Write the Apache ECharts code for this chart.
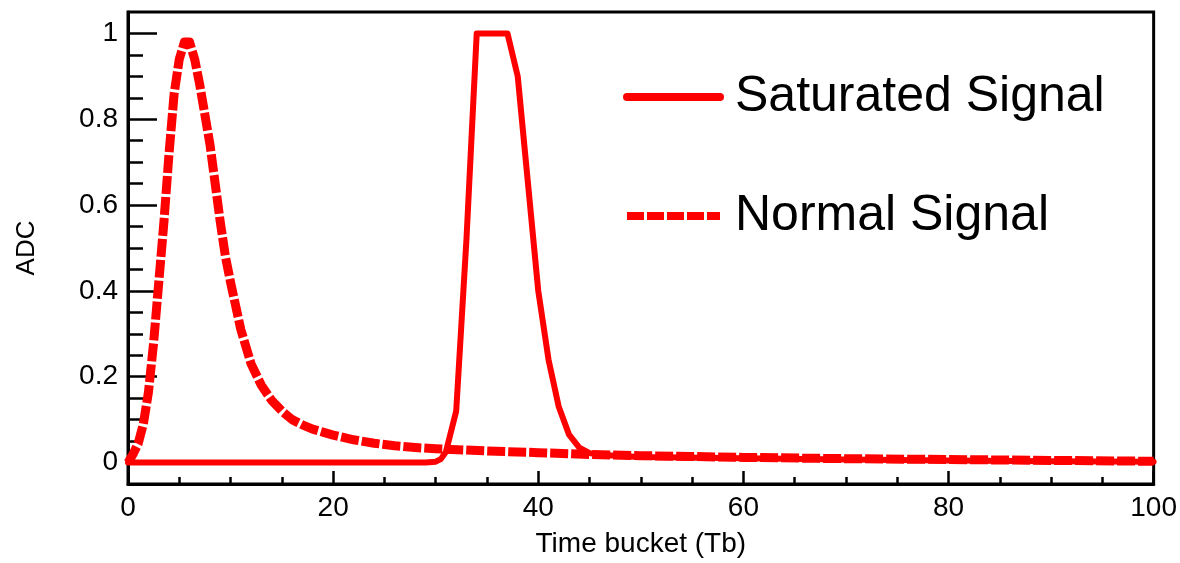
<!DOCTYPE html>
<html>
<head>
<meta charset="utf-8">
<script src="https://cdn.jsdelivr.net/npm/echarts@6/dist/echarts.min.js"></script>
<style>html,body{margin:0;padding:0;background:#fff;}#chart{width:1180px;height:563px;}</style>
</head>
<body>
<div id="chart"></div>
<script>
// ---- data ----
const seriesNames = ['Saturated Signal', 'Normal Signal'];

const saturatedX = [0, 5, 10, 15, 20, 25, 29, 30, 30.5, 31, 32, 33, 34, 35, 36, 37, 38, 39, 40, 41, 42, 43, 44, 45, 46, 48, 50, 60, 70, 80, 90, 100];
const saturatedY = [0, 0, 0, 0, 0, 0, 0, 0.002, 0.008, 0.025, 0.12, 0.52, 1.0, 1.0, 1.0, 1.0, 0.90, 0.65, 0.40, 0.24, 0.13, 0.065, 0.035, 0.022, 0.018, 0.015, 0.013, 0.010, 0.007, 0.005, 0.003, 0.002];

const normalX = [0, 0.5, 1, 1.5, 2, 2.5, 3, 3.5, 4, 4.5, 5, 5.5, 6, 6.5, 7, 7.5, 8, 8.5, 9, 9.5, 10, 11, 12, 13, 14, 15, 16, 17, 18, 19, 20, 22, 24, 26, 28, 30, 35, 40, 45, 50, 55, 60, 70, 80, 90, 100];
const normalY = [0, 0.02, 0.045, 0.09, 0.165, 0.28, 0.42, 0.56, 0.72, 0.86, 0.94, 0.98, 0.98, 0.94, 0.88, 0.81, 0.74, 0.65, 0.56, 0.48, 0.42, 0.31, 0.23, 0.18, 0.145, 0.12, 0.10, 0.088, 0.078, 0.071, 0.064, 0.053, 0.045, 0.039, 0.035, 0.032, 0.027, 0.023, 0.019, 0.016, 0.014, 0.012, 0.009, 0.007, 0.005, 0.003];

const yMajorTicks = [0, 0.2, 0.4, 0.6, 0.8, 1];
const yMinorTicks = [0.05, 0.1, 0.15, 0.25, 0.3, 0.35, 0.45, 0.5, 0.55, 0.65, 0.7, 0.75, 0.85, 0.9, 0.95];

const xTitle = 'Time bucket (Tb)';
const yTitle = 'ADC';

// ---- build ----
const pairs = (xs, ys) => xs.map((x, i) => [x, ys[i]]);
const FONT = 'Liberation Sans, Arial, Helvetica, sans-serif';
const RED = '#ff0000';

const chart = echarts.init(document.getElementById('chart'), null, {renderer: 'canvas'});
chart.setOption({
  backgroundColor: '#ffffff',
  animation: false,
  grid: {
    left: 128, right: 24, top: 12, bottom: 76,
    show: true, borderColor: '#000', borderWidth: 3, backgroundColor: 'transparent'
  },
  legend: {
    orient: 'vertical',
    left: 623, top: 71, padding: 0,
    itemWidth: 93, itemHeight: 10, itemGap: 67,
    textStyle: {fontFamily: FONT, fontSize: 50, color: '#000', lineHeight: 52, padding: [0, 0, 0, 10]},
    data: [
      {name: seriesNames[0], lineStyle: {width: 8, type: 'solid', color: RED}},
      {name: seriesNames[1], lineStyle: {width: 8, type: [17, 3], color: RED}}
    ]
  },
  xAxis: {
    type: 'value', min: 0, max: 100, interval: 20,
    name: xTitle, nameLocation: 'middle', nameGap: 46,
    nameTextStyle: {fontFamily: FONT, fontSize: 28, color: '#000'},
    axisLine: {show: true, onZero: false, lineStyle: {color: '#000', width: 3}},
    axisTick: {show: true, inside: true, length: 13, lineStyle: {color: '#000', width: 2.5}},
    minorTick: {show: true, splitNumber: 4, length: 7, lineStyle: {color: '#000', width: 2.5}},
    axisLabel: {fontFamily: FONT, fontSize: 28, color: '#000', margin: 10},
    splitLine: {show: false}, minorSplitLine: {show: false}
  },
  yAxis: [
    {
      type: 'value', min: -0.05, max: 1.05, position: 'left',
      name: yTitle, nameLocation: 'middle', nameGap: 88,
      nameTextStyle: {fontFamily: FONT, fontSize: 26, color: '#000'},
      axisLine: {show: true, onZero: false, lineStyle: {color: '#000', width: 3}},
      axisTick: {show: true, inside: true, length: 29, customValues: yMajorTicks, lineStyle: {color: '#000', width: 2.5}},
      axisLabel: {fontFamily: FONT, fontSize: 28, color: '#000', margin: 10, customValues: yMajorTicks},
      splitLine: {show: false}
    },
    {
      type: 'value', min: -0.05, max: 1.05, position: 'left',
      axisLine: {show: false},
      axisTick: {show: true, inside: true, length: 15, customValues: yMinorTicks, lineStyle: {color: '#000', width: 2.5}},
      axisLabel: {show: false},
      splitLine: {show: false}
    }
  ],
  series: [
    {
      name: seriesNames[0], type: 'line', data: pairs(saturatedX, saturatedY),
      showSymbol: false, symbol: 'none', clip: true,
      lineStyle: {color: RED, width: 6, type: 'solid', join: 'round', cap: 'round'},
      itemStyle: {color: RED}
    },
    {
      name: seriesNames[1], type: 'line', data: pairs(normalX, normalY),
      showSymbol: false, symbol: 'none', clip: true,
      lineStyle: {color: RED, width: 9, type: [18, 3], join: 'round'},
      itemStyle: {color: RED}
    }
  ]
});
</script>
</body>
</html>
